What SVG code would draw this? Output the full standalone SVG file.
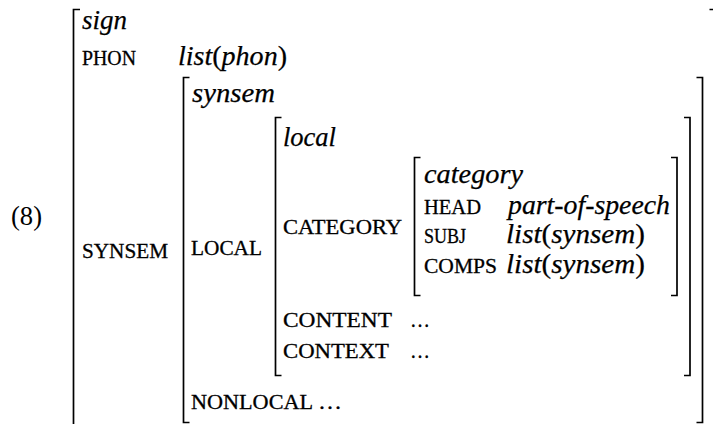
<svg xmlns="http://www.w3.org/2000/svg" width="713" height="424" viewBox="0 0 713 424">
<style>
.br{fill:none;stroke:#000;stroke-width:1.7;stroke-linecap:butt}
.it{font-family:"Liberation Serif","Times New Roman",serif;font-style:italic;font-size:28px;fill:#000;stroke:#000;stroke-width:0.25}
.up{font-style:normal}
.sc{font-family:"Liberation Serif","Times New Roman",serif;font-size:20px;fill:#000;stroke:#000;stroke-width:0.3}
.rm{font-family:"Liberation Serif","Times New Roman",serif;font-size:27px;fill:#000}
</style>
<rect width="713" height="424" fill="#fff"/>
<text class="rm" x="11" y="225" textLength="31" lengthAdjust="spacingAndGlyphs">(8)</text>
<g id="avm-sign">
<path class="br" d="M80,9.5 H73.5 V430"/>
<path class="br" d="M709.5,9.5 H716.5 V430"/>
<text class="it" x="82" y="29" textLength="45" lengthAdjust="spacingAndGlyphs">sign</text>
<text class="sc" x="82" y="65" textLength="54" lengthAdjust="spacingAndGlyphs">PHON</text>
<text class="it" x="178" y="65" textLength="109" lengthAdjust="spacingAndGlyphs">list<tspan class="up">(</tspan>phon<tspan class="up">)</tspan></text>
<text class="sc" x="82" y="258" textLength="86" lengthAdjust="spacingAndGlyphs">SYNSEM</text>
</g>
<g id="avm-synsem">
<path class="br" d="M189.5,77.5 H183.5 V422.5 H189.5"/>
<path class="br" d="M696.5,77.5 H702.5 V422.5 H696.5"/>
<text class="it" x="192" y="102" textLength="83" lengthAdjust="spacingAndGlyphs">synsem</text>
<text class="sc" x="191" y="255" textLength="71" lengthAdjust="spacingAndGlyphs">LOCAL</text>
<text class="sc" x="191" y="409" textLength="122" lengthAdjust="spacingAndGlyphs">NONLOCAL</text>
<text class="sc" x="318" y="409" textLength="24" lengthAdjust="spacingAndGlyphs">…</text>
</g>
<g id="avm-local">
<path class="br" d="M281.5,117.5 H275.5 V375.5 H281.5"/>
<path class="br" d="M684,117.5 H690 V375.5 H684"/>
<text class="it" x="283" y="146" textLength="53" lengthAdjust="spacingAndGlyphs">local</text>
<text class="sc" x="283" y="234" textLength="119" lengthAdjust="spacingAndGlyphs">CATEGORY</text>
<text class="sc" x="283" y="327" textLength="109" lengthAdjust="spacingAndGlyphs">CONTENT</text>
<text class="sc" x="410" y="327" textLength="20" lengthAdjust="spacingAndGlyphs">…</text>
<text class="sc" x="283" y="358" textLength="106" lengthAdjust="spacingAndGlyphs">CONTEXT</text>
<text class="sc" x="410" y="358" textLength="20" lengthAdjust="spacingAndGlyphs">…</text>
</g>
<g id="avm-category">
<path class="br" d="M420.5,157.5 H414.5 V295.5 H420.5"/>
<path class="br" d="M671,157.5 H677 V295.5 H671"/>
<text class="it" x="424" y="183" textLength="99" lengthAdjust="spacingAndGlyphs">category</text>
<text class="sc" x="424" y="214" textLength="57" lengthAdjust="spacingAndGlyphs">HEAD</text>
<text class="it" x="508" y="214" textLength="162" lengthAdjust="spacingAndGlyphs">part-of-speech</text>
<text class="sc" x="424" y="243" textLength="42" lengthAdjust="spacingAndGlyphs">SUBJ</text>
<text class="it" x="506" y="243" textLength="139" lengthAdjust="spacingAndGlyphs">list<tspan class="up">(</tspan>synsem<tspan class="up">)</tspan></text>
<text class="sc" x="424" y="273" textLength="73" lengthAdjust="spacingAndGlyphs">COMPS</text>
<text class="it" x="506" y="273" textLength="139" lengthAdjust="spacingAndGlyphs">list<tspan class="up">(</tspan>synsem<tspan class="up">)</tspan></text>
</g>
<g id="connectors"></g>
</svg>
